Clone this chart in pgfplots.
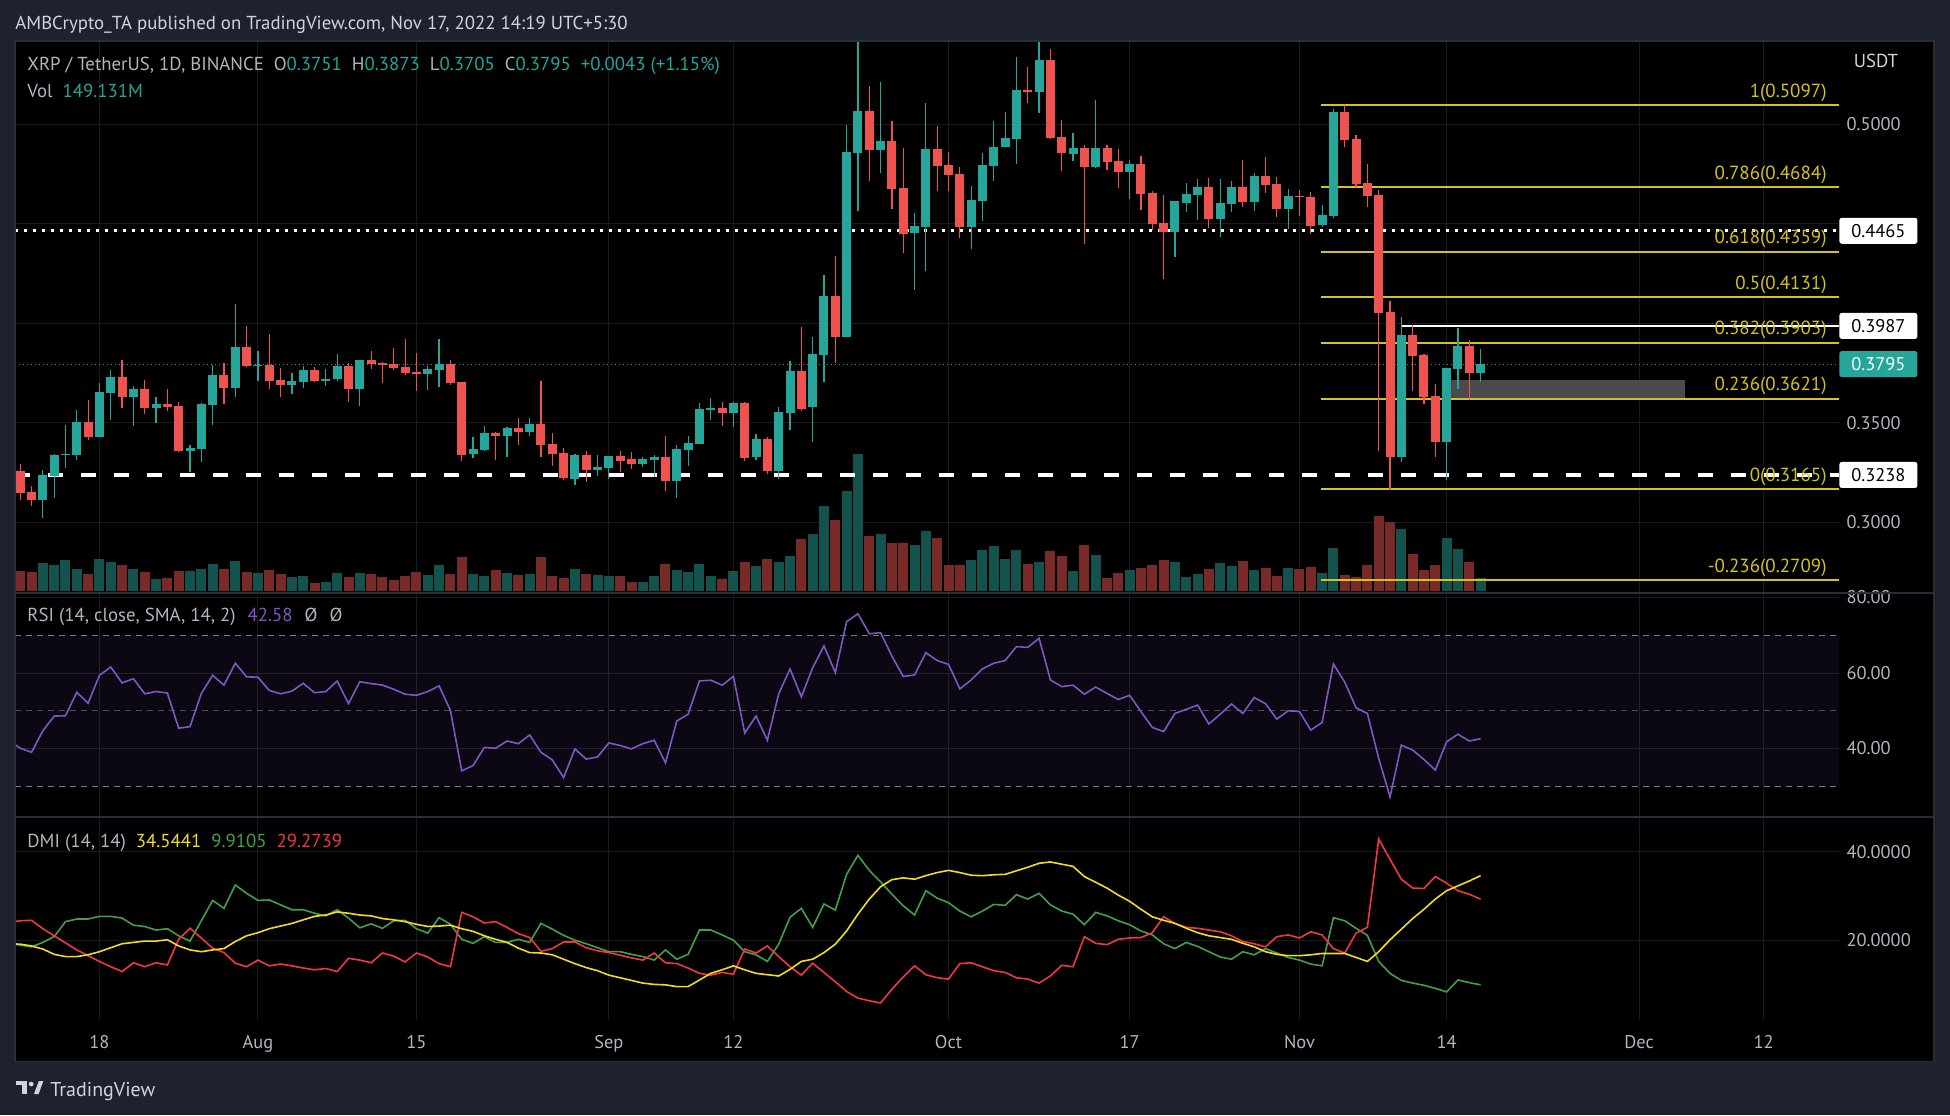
\documentclass[border=0pt]{standalone}
\usepackage{pgfplots}
\pgfplotsset{compat=1.18}
\usepackage{pgfplotstable}
\usepackage{fontspec}
\setmainfont{PT Sans}

\definecolor{tvbg}{HTML}{1E222D}
\definecolor{tvframe}{HTML}{2A2E39}
\definecolor{tvgreen}{HTML}{26A69A}
\definecolor{tvred}{HTML}{EF5350}
\definecolor{volgreen}{HTML}{14534D}
\definecolor{volred}{HTML}{782A28}
\definecolor{gridc}{HTML}{1A1A1A}
\definecolor{txt}{HTML}{D1D4DC}
\definecolor{scaletxt}{HTML}{B2B5BE}
\definecolor{fibc}{HTML}{D4C21E}
\definecolor{rsic}{HTML}{7E57C2}
\definecolor{bandline}{HTML}{787B86}
\definecolor{adxc}{HTML}{F2DC1E}
\definecolor{pdic}{HTML}{43A047}
\definecolor{mdic}{HTML}{F23645}
\definecolor{rectc}{HTML}{4B4B4B}

% day index: 0 = 18 Jul 2022
\pgfplotstableread{
d o h l c v g
-7 0.3258 0.3293 0.3112 0.3149 226 0
-6 0.3152 0.3183 0.3082 0.3112 215 0
-5 0.3112 0.3263 0.3022 0.3238 317 1
-4 0.3233 0.3344 0.3123 0.3339 294 1
-3 0.3336 0.3489 0.3273 0.3345 351 1
-2 0.3339 0.3565 0.3313 0.3504 249 1
-1 0.3504 0.3615 0.3414 0.3429 192 0
0 0.3429 0.3700 0.3429 0.3655 362 1
1 0.3650 0.3766 0.3515 0.3731 328 1
2 0.3731 0.3816 0.3575 0.3630 294 0
3 0.3630 0.3685 0.3484 0.3670 249 1
4 0.3670 0.3715 0.3545 0.3575 215 0
5 0.3575 0.3630 0.3499 0.3595 136 1
6 0.3595 0.3670 0.3560 0.3580 147 0
7 0.3585 0.3605 0.3354 0.3359 226 0
8 0.3359 0.3389 0.3253 0.3374 226 1
9 0.3369 0.3600 0.3303 0.3595 249 1
10 0.3590 0.3791 0.3489 0.3741 305 1
11 0.3741 0.3801 0.3595 0.3675 249 0
12 0.3675 0.4097 0.3630 0.3881 339 1
13 0.3881 0.3987 0.3781 0.3786 215 0
14 0.3786 0.3861 0.3710 0.3793 204 1
15 0.3791 0.3946 0.3670 0.3710 238 0
16 0.3715 0.3776 0.3630 0.3690 192 0
17 0.3690 0.3751 0.3645 0.3710 158 1
18 0.3705 0.3786 0.3675 0.3766 170 1
19 0.3766 0.3781 0.3705 0.3710 90 0
20 0.3710 0.3771 0.3685 0.3720 102 1
21 0.3720 0.3846 0.3710 0.3786 204 1
22 0.3786 0.3801 0.3605 0.3670 158 0
23 0.3670 0.3816 0.3585 0.3816 204 1
24 0.3816 0.3861 0.3771 0.3796 192 0
25 0.3801 0.3806 0.3700 0.3793 158 0
26 0.3796 0.3876 0.3766 0.3776 124 0
27 0.3781 0.3921 0.3741 0.3751 170 0
28 0.3755 0.3851 0.3660 0.3746 215 0
29 0.3746 0.3786 0.3665 0.3771 181 1
30 0.3766 0.3921 0.3680 0.3796 294 1
31 0.3796 0.3816 0.3690 0.3700 192 0
32 0.3705 0.3705 0.3309 0.3339 385 0
33 0.3344 0.3429 0.3324 0.3369 192 1
34 0.3364 0.3484 0.3359 0.3449 170 1
35 0.3449 0.3454 0.3313 0.3434 238 0
36 0.3434 0.3479 0.3329 0.3474 204 1
37 0.3474 0.3524 0.3389 0.3454 181 0
38 0.3454 0.3524 0.3434 0.3494 192 1
39 0.3494 0.3710 0.3329 0.3389 385 0
40 0.3394 0.3449 0.3283 0.3344 170 0
41 0.3349 0.3374 0.3213 0.3223 147 0
42 0.3218 0.3344 0.3188 0.3339 249 1
43 0.3339 0.3359 0.3203 0.3263 192 0
44 0.3263 0.3339 0.3233 0.3278 181 1
45 0.3273 0.3334 0.3218 0.3334 170 1
46 0.3334 0.3359 0.3253 0.3308 170 0
47 0.3319 0.3354 0.3268 0.3293 102 0
48 0.3293 0.3329 0.3278 0.3319 102 1
49 0.3314 0.3339 0.3228 0.3329 170 1
50 0.3329 0.3434 0.3158 0.3208 305 0
51 0.3208 0.3389 0.3122 0.3369 238 1
52 0.3364 0.3434 0.3283 0.3399 215 1
53 0.3394 0.3600 0.3394 0.3570 305 1
54 0.3565 0.3625 0.3515 0.3575 170 1
55 0.3575 0.3605 0.3484 0.3550 136 0
56 0.3550 0.3605 0.3479 0.3600 226 1
57 0.3600 0.3605 0.3309 0.3324 328 0
58 0.3329 0.3444 0.3313 0.3419 283 1
59 0.3419 0.3429 0.3243 0.3258 362 0
60 0.3258 0.3580 0.3218 0.3555 328 1
61 0.3550 0.3811 0.3464 0.3761 396 1
62 0.3760 0.3981 0.3561 0.3570 590 0
63 0.3577 0.3931 0.3405 0.3846 646 1
64 0.3843 0.4243 0.3706 0.4137 962 1
65 0.4137 0.4338 0.3803 0.3932 804 0
66 0.3932 0.4997 0.3932 0.4860 1131 1
67 0.4857 0.5415 0.4564 0.5067 1551 1
68 0.5067 0.5192 0.4715 0.4871 622 0
69 0.4871 0.5212 0.4756 0.4916 646 1
70 0.4916 0.5017 0.4575 0.4675 545 0
71 0.4681 0.4882 0.4351 0.4449 545 0
72 0.4455 0.4553 0.4167 0.4489 521 1
73 0.4485 0.5108 0.4263 0.4877 679 1
74 0.4877 0.4991 0.4665 0.4792 602 0
75 0.4796 0.4860 0.4665 0.4745 295 0
76 0.4751 0.4785 0.4431 0.4482 295 0
77 0.4482 0.4690 0.4374 0.4620 351 1
78 0.4615 0.4857 0.4514 0.4796 465 1
79 0.4792 0.5017 0.4717 0.4886 509 1
80 0.4884 0.5061 0.4884 0.4932 364 1
81 0.4927 0.5338 0.4801 0.5173 465 1
82 0.5173 0.5288 0.5108 0.5162 307 0
83 0.5162 0.5415 0.5058 0.5323 327 1
84 0.5323 0.5379 0.4927 0.4932 452 0
85 0.4936 0.5022 0.4765 0.4857 396 0
86 0.4851 0.4957 0.4816 0.4882 226 1
87 0.4882 0.4896 0.4399 0.4787 521 0
88 0.4787 0.5122 0.4781 0.4882 408 1
89 0.4882 0.4896 0.4771 0.4812 149 0
90 0.4816 0.4877 0.4681 0.4762 206 0
91 0.4762 0.4821 0.4625 0.4801 238 1
92 0.4801 0.4841 0.4570 0.4650 263 0
93 0.4656 0.4667 0.4469 0.4500 295 0
94 0.4505 0.4645 0.4223 0.4460 351 0
95 0.4460 0.4614 0.4334 0.4614 327 1
96 0.4606 0.4706 0.4559 0.4650 158 1
97 0.4645 0.4726 0.4519 0.4684 194 1
98 0.4684 0.4731 0.4480 0.4525 250 0
99 0.4525 0.4726 0.4433 0.4606 319 1
100 0.4600 0.4715 0.4559 0.4684 283 1
101 0.4684 0.4821 0.4584 0.4609 339 0
102 0.4609 0.4756 0.4564 0.4740 238 1
103 0.4740 0.4835 0.4656 0.4695 263 0
104 0.4701 0.4735 0.4534 0.4575 170 0
105 0.4575 0.4675 0.4474 0.4640 263 1
106 0.4640 0.4670 0.4539 0.4633 250 0
107 0.4634 0.4659 0.4449 0.4489 271 0
108 0.4494 0.4595 0.4483 0.4544 206 1
109 0.4539 0.5078 0.4530 0.5061 489 1
110 0.5061 0.5097 0.4885 0.4921 182 0
111 0.4927 0.4947 0.4684 0.4701 158 0
112 0.4706 0.4801 0.4584 0.4640 295 0
113 0.4645 0.4670 0.3360 0.4053 848 0
114 0.4056 0.4112 0.3164 0.3329 780 0
115 0.3329 0.4031 0.3304 0.3941 703 1
116 0.3941 0.3992 0.3660 0.3837 420 0
117 0.3841 0.3846 0.3597 0.3631 238 0
118 0.3634 0.3695 0.3329 0.3405 295 0
119 0.3405 0.3776 0.3214 0.3776 602 1
120 0.3772 0.3977 0.3672 0.3886 477 1
121 0.3886 0.3916 0.3617 0.3748 327 0
122 0.3751 0.3873 0.3705 0.3795 149 1
}\candles

\pgfplotstableread{
d rsi adx pdi mdi
-8 42.1 19.2 19.3 24.0
-7 40.1 19.1 18.9 24.4
-6 39.0 18.7 18.5 24.5
-5 44.7 18.0 19.5 22.6
-4 48.6 16.8 20.8 21.0
-3 48.7 16.3 24.2 19.4
-2 54.9 16.3 24.8 17.8
-1 52.0 16.7 24.8 16.5
0 59.4 17.4 25.4 15.2
1 61.6 18.3 25.4 14.0
2 57.4 19.2 25.0 12.9
3 58.5 19.5 23.4 14.9
4 54.5 19.8 23.1 14.0
5 55.1 19.8 22.3 14.9
6 54.7 20.1 22.6 14.4
7 45.4 18.7 21.0 20.2
8 45.8 17.8 19.8 22.7
9 54.6 17.4 24.4 20.5
10 59.4 17.8 29.0 18.2
11 56.8 18.1 27.2 17.2
12 62.6 19.7 32.5 14.8
13 59.0 21.0 30.6 14.0
14 58.9 21.7 29.0 15.5
15 55.4 22.6 29.1 14.2
16 54.5 23.2 28.0 14.6
17 55.2 23.8 26.9 14.2
18 57.3 24.6 26.9 13.7
19 54.8 25.4 26.1 13.3
20 55.1 25.7 25.5 13.6
21 57.9 26.4 26.9 12.9
22 51.9 26.1 25.0 15.9
23 57.7 25.7 22.8 15.5
24 57.2 25.5 23.7 14.9
25 56.8 24.9 22.7 17.1
26 55.7 24.6 24.4 16.4
27 54.4 24.2 24.5 15.1
28 54.1 23.6 22.6 17.1
29 55.1 23.1 21.6 16.2
30 56.6 23.2 25.1 14.7
31 50.1 23.4 23.6 14.0
32 34.1 22.6 20.2 26.3
33 35.5 22.0 19.3 25.3
34 40.3 21.0 20.8 23.9
35 40.1 20.2 19.5 24.2
36 42.0 19.5 19.5 22.9
37 41.3 18.2 20.2 21.5
38 43.6 17.2 19.5 20.6
39 39.0 17.1 23.8 17.5
40 37.0 16.7 22.5 18.1
41 32.3 15.7 21.1 19.6
42 39.9 14.7 20.0 19.6
43 37.2 13.8 19.2 18.3
44 37.8 13.1 18.3 17.6
45 41.5 12.1 17.4 17.2
46 40.8 11.5 17.4 16.6
47 39.9 10.9 16.8 16.0
48 41.3 10.3 16.3 15.5
49 42.2 10.0 15.5 17.1
50 36.2 9.9 17.8 14.9
51 47.3 9.5 15.7 14.7
52 49.1 9.5 16.8 13.7
53 57.9 11.0 22.3 12.5
54 58.1 12.5 22.3 12.1
55 56.8 13.3 21.2 12.7
56 59.1 14.2 20.0 12.3
57 44.1 13.3 17.4 18.0
58 48.6 12.5 16.7 17.1
59 42.2 12.2 15.2 18.7
60 54.5 11.9 19.1 16.3
61 61.1 13.4 25.2 14.0
62 53.7 15.2 27.2 12.1
63 61.4 15.7 22.9 14.8
64 67.2 17.2 28.2 12.7
65 60.1 19.1 26.8 10.6
66 73.6 22.1 34.9 8.4
67 75.7 25.9 39.2 6.9
68 70.4 29.3 35.8 6.3
69 70.7 32.1 33.2 5.8
70 64.5 33.7 30.4 8.9
71 59.1 34.1 27.8 11.7
72 59.5 33.8 25.7 14.2
73 65.4 34.6 31.2 12.2
74 63.3 35.3 29.5 11.5
75 62.3 35.8 28.5 11.2
76 55.8 35.3 26.6 14.7
77 58.2 34.7 25.3 14.9
78 61.1 34.6 26.6 14.0
79 62.6 34.8 28.1 13.1
80 63.3 34.9 27.9 12.7
81 67.0 35.7 30.3 11.5
82 66.8 36.5 29.3 11.2
83 69.2 37.4 30.6 10.3
84 58.2 37.7 28.0 11.9
85 56.4 37.2 26.6 14.3
86 56.8 36.7 25.9 14.0
87 54.4 34.4 23.5 20.8
88 56.3 33.1 26.3 19.3
89 54.6 31.8 25.5 19.0
90 53.0 30.2 24.4 20.2
91 54.1 28.8 23.5 20.5
92 49.8 27.0 22.1 20.6
93 45.6 25.3 21.2 21.7
94 44.5 24.5 19.2 25.3
95 49.3 23.8 18.1 23.8
96 50.4 22.7 19.5 22.9
97 51.5 21.7 18.6 22.7
98 46.5 21.0 17.4 22.3
99 49.1 20.6 16.2 21.9
100 51.8 20.2 15.7 21.0
101 49.3 19.3 17.4 19.7
102 53.5 18.5 16.7 19.2
103 51.9 17.4 18.1 18.5
104 47.8 16.8 17.1 20.8
105 50.0 16.5 16.1 21.2
106 49.8 16.5 15.5 20.5
107 44.9 16.7 14.6 21.9
108 46.9 17.0 14.2 21.2
109 62.4 17.0 25.1 18.1
110 57.6 17.0 24.4 17.1
111 50.8 16.1 22.7 21.6
112 49.3 15.2 21.1 22.9
113 37.4 17.4 15.2 42.9
114 27.2 20.1 12.5 38.3
115 40.9 22.5 10.9 33.8
116 39.6 24.9 10.3 31.8
117 37.1 27.0 9.8 31.7
118 34.3 29.3 9.1 34.4
119 41.8 31.2 8.3 32.9
120 43.8 32.3 11.0 31.2
121 42.0 33.4 10.4 30.4
122 42.6 34.6 9.9 29.3
}\ind

\pgfplotsset{
  tvbase/.style={scale only axis, width=912pt, xmin=-7.46, xmax=153.66,
    anchor=north west,
    axis line style={draw=none}, tick style={draw=none}, major tick length=0pt,
    xtick={0,14,28,45,56,75,91,106,119,136,147}, xticklabels={},
    grid=major, major grid style={gridc, line width=0.5pt},
    yticklabel pos=right,
    yticklabel style={anchor=west, xshift=0.3pt, text=scaletxt, font=\fontsize{9.2}{11}\selectfont},
    xticklabel style={text=scaletxt, font=\fontsize{9.2}{11}\selectfont}},
  tvhidden/.style={scale only axis, width=912pt, xmin=-7.46, xmax=153.66,
    anchor=north west, hide axis, clip mode=individual},
}
\tikzset{
  tvbox/.style={anchor=west, inner sep=0pt, minimum width=39pt, minimum height=13pt, rounded corners=1.2pt, font=\fontsize{9.2}{11}\selectfont},
  fiblab/.style={anchor=base east, inner sep=0pt, yshift=4pt, text=fibc, font=\fontsize{9.5}{11}\selectfont},
  lab/.style={anchor=base west, inner sep=0pt, font=\fontsize{9.4}{11}\selectfont},
}

\begin{document}
\begin{tikzpicture}[font=\fontsize{9.4}{11}\selectfont]
\fill[tvbg] (0pt,0pt) rectangle (975pt,-557.5pt);
\fill[black] (7.5pt,-20.5pt) rectangle (967pt,-530.75pt);

% ---------- price pane grid + scale ----------
\begin{axis}[tvbase, at={(7.5pt,-20.5pt)}, height=276pt,
  ymin=0.264472, ymax=0.541859,
  ytick={0.30,0.35,0.40,0.45,0.50}, yticklabels={0.3000,0.3500,,,0.5000}]
\addplot[draw=none] coordinates {(0,0.3) (1,0.3)};
\end{axis}

% ---------- volume ----------
\begin{axis}[tvhidden, at={(7.5pt,-20.5pt)}, height=275pt, ymin=0, ymax=6215]
\addplot[ycomb, mark=none, line width=5pt, volgreen]
  table[x expr={\thisrow{g}>0.5 ? \thisrow{d} : nan}, y=v] {\candles};
\addplot[ycomb, mark=none, line width=5pt, volred]
  table[x expr={\thisrow{g}<0.5 ? \thisrow{d} : nan}, y=v] {\candles};
\end{axis}

% ---------- price data ----------
\begin{axis}[tvhidden, at={(7.5pt,-20.5pt)}, height=276pt,
  ymin=0.264472, ymax=0.541859]
% consolidation box
\addplot[fill=rectc, draw=none] coordinates {(119.4,0.3621) (140.05,0.3621) (140.05,0.3714) (119.4,0.3714)} -- cycle;
% fibonacci levels
\addplot[fibc, line width=1pt] coordinates {(107.9,0.5097) (153.66,0.5097)};
\addplot[fibc, line width=1pt] coordinates {(107.9,0.4684) (153.66,0.4684)};
\addplot[fibc, line width=1pt] coordinates {(107.9,0.4359) (153.66,0.4359)};
\addplot[fibc, line width=1pt] coordinates {(107.9,0.4131) (153.66,0.4131)};
\addplot[fibc, line width=1pt] coordinates {(107.9,0.3903) (153.66,0.3903)};
\addplot[fibc, line width=1pt] coordinates {(107.9,0.3621) (153.66,0.3621)};
\addplot[fibc, line width=1pt] coordinates {(107.9,0.3165) (153.66,0.3165)};
\addplot[fibc, line width=1pt] coordinates {(107.9,0.2709) (153.66,0.2709)};
% horizontal levels
\addplot[white, line width=1.6pt, dash pattern=on 1.5pt off 3pt] coordinates {(-7.46,0.4465) (153.66,0.4465)};
\addplot[white, line width=1.6pt, dash pattern=on 7.5pt off 9pt] coordinates {(-7.46,0.3238) (153.66,0.3238)};
\addplot[white, line width=1pt] coordinates {(115,0.3987) (153.66,0.3987)};
\addplot[tvgreen, line width=0.5pt, dash pattern=on 0.6pt off 1.4pt] coordinates {(-7.46,0.3795) (153.66,0.3795)};
% wicks (low -> high)
\addplot[tvgreen, line width=0.6pt, mark=none, quiver={u=0, v={\thisrow{h}-\thisrow{l}}}]
  table[x expr={\thisrow{g}>0.5 ? \thisrow{d} : nan}, y=l] {\candles};
\addplot[tvred, line width=0.6pt, mark=none, quiver={u=0, v={\thisrow{h}-\thisrow{l}}}]
  table[x expr={\thisrow{g}<0.5 ? \thisrow{d} : nan}, y=l] {\candles};
% bodies (open/close)
\addplot[tvgreen, line width=4.5pt, mark=none, quiver={u=0, v={max(abs(\thisrow{c}-\thisrow{o}),0.0005)}}]
  table[x expr={\thisrow{g}>0.5 ? \thisrow{d} : nan}, y expr={min(\thisrow{o},\thisrow{c})}] {\candles};
\addplot[tvred, line width=4.5pt, mark=none, quiver={u=0, v={max(abs(\thisrow{c}-\thisrow{o}),0.0005)}}]
  table[x expr={\thisrow{g}<0.5 ? \thisrow{d} : nan}, y expr={min(\thisrow{o},\thisrow{c})}] {\candles};
% fib labels
\node[fiblab] at (axis cs:152.6,0.5097) {1(0.5097)};
\node[fiblab] at (axis cs:152.6,0.4684) {0.786(0.4684)};
\node[fiblab] at (axis cs:152.6,0.4359) {0.618(0.4359)};
\node[fiblab] at (axis cs:152.6,0.4131) {0.5(0.4131)};
\node[fiblab] at (axis cs:152.6,0.3903) {0.382(0.3903)};
\node[fiblab] at (axis cs:152.6,0.3621) {0.236(0.3621)};
\node[fiblab] at (axis cs:152.6,0.3165) {0(0.3165)};
\node[fiblab] at (axis cs:152.6,0.2709) {-0.236(0.2709)};
% price scale boxes
\node[tvbox, fill=white, text=black] at (axis cs:153.66,0.4465) {0.4465};
\node[tvbox, fill=white, text=black] at (axis cs:153.66,0.3987) {0.3987};
\node[tvbox, fill=tvgreen, text=white] at (axis cs:153.66,0.3795) {0.3795};
\node[tvbox, fill=white, text=black] at (axis cs:153.66,0.3238) {0.3238};
\end{axis}

% ---------- RSI pane ----------
\begin{axis}[tvbase, at={(7.5pt,-296.5pt)}, height=112pt,
  ymin=21.87, ymax=81.2,
  ytick={40,60,80}, yticklabels={40.00,60.00,80.00}]
\addplot[fill=rsic, fill opacity=0.1, draw=none] coordinates {(-7.46,30) (153.66,30) (153.66,70) (-7.46,70)} -- cycle;
\addplot[bandline, line width=0.5pt, dash pattern=on 3pt off 2.5pt] coordinates {(-7.46,70) (153.66,70)};
\addplot[bandline, line width=0.5pt, dash pattern=on 3pt off 2.5pt, opacity=0.6] coordinates {(-7.46,50) (153.66,50)};
\addplot[bandline, line width=0.5pt, dash pattern=on 3pt off 2.5pt] coordinates {(-7.46,30) (153.66,30)};
\addplot[rsic, line width=0.8pt, mark=none] table[x=d, y=rsi] {\ind};
\end{axis}

% ---------- DMI pane ----------
\begin{axis}[tvbase, at={(7.5pt,-408.5pt)}, height=101.5pt,
  ymin=1.945, ymax=47.87,
  ytick={20,40}, yticklabels={20.0000,40.0000},
  xticklabels={18,Aug,15,Sep,12,Oct,17,Nov,14,Dec,12},
  xticklabel style={anchor=base, yshift=-14pt}]
\addplot[pdic, line width=0.8pt, mark=none] table[x=d, y=pdi] {\ind};
\addplot[mdic, line width=0.8pt, mark=none] table[x=d, y=mdi] {\ind};
\addplot[adxc, line width=0.8pt, mark=none] table[x=d, y=adx] {\ind};
\end{axis}

% separators and frame
\draw[tvframe, line width=1pt] (7.5pt,-296.5pt) -- (967pt,-296.5pt);
\draw[tvframe, line width=1pt] (7.5pt,-408.5pt) -- (967pt,-408.5pt);
\draw[tvframe, line width=0.6pt] (7.5pt,-20.5pt) rectangle (967pt,-530.75pt);

% texts
\node[lab, text=txt] at (7.5pt,-14.7pt) {AMBCrypto\_TA published on TradingView.com, Nov 17, 2022 14:19 UTC+5:30};
\node[lab] at (13.5pt,-35pt) {\color{scaletxt}XRP / TetherUS, 1D, BINANCE\hspace{5pt}O\color{tvgreen}0.3751\hspace{5pt}\color{scaletxt}H\color{tvgreen}0.3873\hspace{5pt}\color{scaletxt}L\color{tvgreen}0.3705\hspace{5pt}\color{scaletxt}C\color{tvgreen}0.3795\hspace{5pt}+0.0043 (+1.15\%)};
\node[lab] at (13.5pt,-48.5pt) {\color{scaletxt}Vol\hspace{5pt}\color{tvgreen}149.131M};
\node[lab] at (13.5pt,-310.5pt) {\color{scaletxt}RSI (14, close, SMA, 14, 2)\hspace{6pt}\color{rsic}42.58\hspace{6pt}\color{scaletxt}Ø\hspace{6pt}Ø};
\node[lab] at (13.5pt,-423.5pt) {\color{scaletxt}DMI (14, 14)\hspace{5pt}\color{adxc}34.5441\hspace{5pt}\color{pdic}9.9105\hspace{5pt}\color{mdic}29.2739};
\node[anchor=base, inner sep=0pt, text=txt] at (938pt,-33.8pt) {USDT};

% TradingView logo and name
\fill[txt] (7.8pt,-540.5pt) rectangle (13.6pt,-542.5pt);
\fill[txt] (11.2pt,-540.5pt) rectangle (13.6pt,-547pt);
\fill[txt] (15.6pt,-542pt) circle (1.2pt);
\fill[txt] (17pt,-547pt) -- (19.4pt,-540.5pt) -- (21.7pt,-540.5pt) -- (19.3pt,-547pt) -- cycle;
\node[anchor=base west, inner sep=0pt, text=txt, font=\fontsize{10}{12}\selectfont] at (25pt,-548pt) {TradingView};

\pgfresetboundingbox
\path[use as bounding box] (0pt,0pt) rectangle (975pt,-557.5pt);
\end{tikzpicture}
\end{document}
